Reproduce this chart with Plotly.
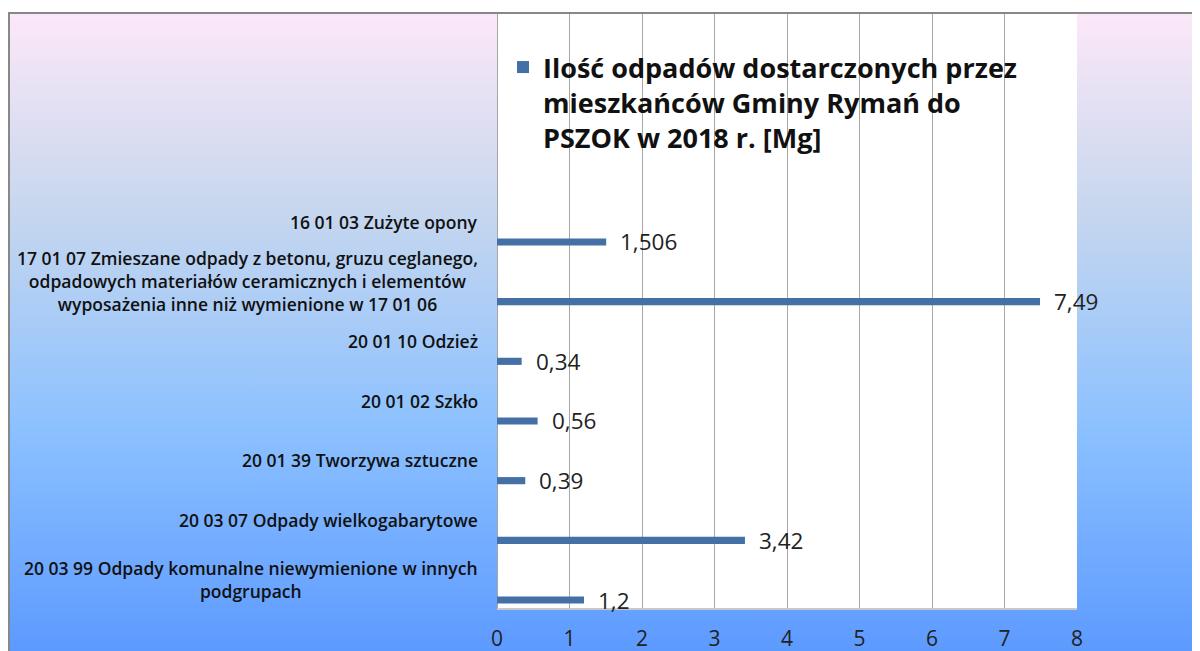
import base64
import plotly.graph_objects as go

# ---- data (top to bottom as displayed) ----
categories = [
    "16 01 03 Zużyte opony",
    "17 01 07 Zmieszane odpady z betonu, gruzu ceglanego,<br>odpadowych materiałów ceramicznych i elementów<br>wyposażenia inne niż wymienione w 17 01 06",
    "20 01 10 Odzież",
    "20 01 02 Szkło",
    "20 01 39 Tworzywa sztuczne",
    "20 03 07 Odpady wielkogabarytowe",
    "20 03 99 Odpady komunalne niewymienione w innych<br>podgrupach",
]
values = [1.506, 7.49, 0.34, 0.56, 0.39, 3.42, 1.2]
value_labels = ["1,506", "7,49", "0,34", "0,56", "0,39", "3,42", "1,2"]
series_name = "Ilość odpadów dostarczonych przez<br>mieszkańców Gminy Rymań do<br>PSZOK w 2018 r. [Mg]"
x_ticks = [0, 1, 2, 3, 4, 5, 6, 7, 8]

n = len(categories)
pos = [n - 1 - i for i in range(n)]  # bottom category at 0

# the page body has an 8px margin, so the figure is placed at (8, 8)
W, H = 1192, 643
L, R, T, B = 489, 123, 5, 43
pw, ph = W - L - R, H - T - B

def fx(px):  # figure px -> paper x
    return (px - L) / pw

def fy(py):  # figure px -> paper y
    return (H - B - py) / ph

svg = (
    '<svg xmlns="http://www.w3.org/2000/svg" width="100" height="100" preserveAspectRatio="none">'
    '<defs><linearGradient id="g" x1="0" y1="0" x2="0" y2="1">'
    '<stop offset="0" stop-color="#FCE8F8"/>'
    '<stop offset="0.3" stop-color="#C8D7EE"/>'
    '<stop offset="0.65" stop-color="#8CC1FF"/>'
    '<stop offset="1" stop-color="#5D9AFF"/>'
    '</linearGradient></defs>'
    '<rect x="0" y="0" width="100" height="100" fill="url(#g)"/></svg>'
)
svg_uri = "data:image/svg+xml;base64," + base64.b64encode(svg.encode()).decode()

fig = go.Figure()
fig.add_trace(go.Bar(
    x=values, y=pos, orientation="h", width=0.12,
    marker=dict(color="#4470A6", line=dict(width=0)),
    name=series_name, showlegend=True,
    hoverinfo="x",
))

annotations = []
for c, p in zip(categories, pos):
    annotations.append(dict(
        text=c, x=fx(472), y=p + 0.34, xref="paper", yref="y",
        xanchor="right", yanchor="middle", align="center", showarrow=False,
        font=dict(family="Open Sans", size=17.5, color="#111111", weight=600),
    ))
for v, lab, p in zip(values, value_labels, pos):
    annotations.append(dict(
        text=lab, x=v, y=p, xref="x", yref="y", xanchor="left", yanchor="middle",
        xshift=12, showarrow=False,
        font=dict(family="Open Sans", size=22.5, color="#222222"),
    ))

spacing = 59.67
ymin = -8 / spacing
ymax = ymin + ph / spacing

fig.update_layout(
    template="none",
    width=W, height=H,
    margin=dict(l=L, r=R, t=T, b=B, pad=0, autoexpand=False),
    paper_bgcolor="white", plot_bgcolor="white",
    separators=",.",
    font=dict(family="Open Sans", color="#222222"),
    xaxis=dict(range=[0, 8], tickvals=x_ticks, showgrid=True, gridcolor="#A6A6A6", gridwidth=1,
               zeroline=True, zerolinecolor="#A6A6A6", zerolinewidth=1,
               showline=True, linecolor="#C8C8C8", linewidth=2, ticks="",
               ticklabelstandoff=11, automargin=False,
               tickfont=dict(family="Open Sans", size=21, color="#222222"), fixedrange=True),
    yaxis=dict(range=[ymin, ymax], showticklabels=False, showgrid=False, zeroline=False,
               showline=False, ticks="", automargin=False, fixedrange=True),
    legend=dict(x=fx(495), y=fy(35), xanchor="left", yanchor="top", valign="top",
                bgcolor="rgba(0,0,0,0)", borderwidth=0,
                font=dict(family="Open Sans", size=27, color="#111111", weight="bold")),
    annotations=annotations,
    images=[dict(source=svg_uri, xref="paper", yref="paper",
                 x=fx(0), y=fy(5), sizex=W / pw, sizey=(H - 5) / ph,
                 xanchor="left", yanchor="top", sizing="stretch", layer="below")],
    shapes=[
        dict(type="rect", xref="paper", yref="paper", x0=0, x1=1, y0=0, y1=1,
             fillcolor="white", line=dict(width=0), layer="below"),
        dict(type="path", xref="paper", yref="paper",
             path=f"M {fx(1)} {fy(H)} L {fx(1)} {fy(5)} L {fx(W)} {fy(5)}",
             line=dict(color="#888888", width=2), layer="above"),
    ],
    showlegend=True,
)

fig.write_html("out.html")
